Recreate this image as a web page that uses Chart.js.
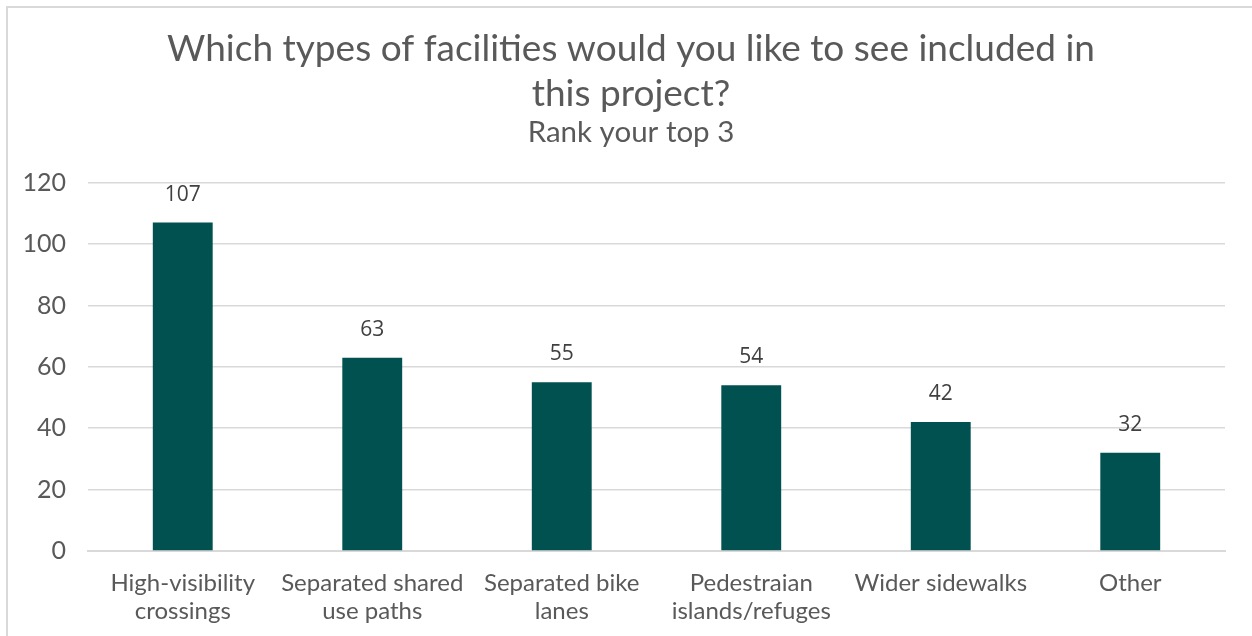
<!DOCTYPE html>
<html>
<head>
<meta charset="utf-8">
<script src="https://cdn.jsdelivr.net/npm/chart.js@4.4.1/dist/chart.umd.min.js"></script>
<style>
  html, body { margin: 0; padding: 0; background: #fff; }
  #wrap { position: absolute; left: 6px; top: 6px; width: 1252px; height: 636px; border: 2px solid #d9d9d9; box-sizing: border-box; }
  #box { position: absolute; left: 0; top: 0; width: 1252px; height: 636px; }
</style>
</head>
<body>
<div id="wrap"></div>
<div id="box"><canvas id="myChart"></canvas></div>
<script>
var categories = [
  ["High-visibility", "crossings"],
  ["Separated shared", "use paths"],
  ["Separated bike", "lanes"],
  ["Pedestraian", "islands/refuges"],
  "Wider sidewalks",
  "Other"
];
var votes = [107, 63, 55, 54, 42, 32];
var titleLines = ["Which types of facilities would you like to see included in", "this project?"];
var subtitleText = "Rank your top 3";
var barColor = "#005150";
var gridColor = "#d9d9d9";
var textColor = "#595959";

// draws the value above each bar
var valueLabels = {
  id: 'valueLabels',
  afterDatasetsDraw(chart) {
    var ctx = chart.ctx;
    var meta = chart.getDatasetMeta(0);
    ctx.save();
    ctx.font = "21px 'Open Sans', sans-serif";
    ctx.fillStyle = "#404040";
    ctx.textAlign = "center";
    ctx.textBaseline = "middle";
    meta.data.forEach(function (bar, i) {
      ctx.fillText(votes[i], bar.x, bar.y - 28);
    });
    ctx.restore();
  }
};

var myChart = new Chart(document.getElementById("myChart"), {
  type: 'bar',
  data: {
    labels: categories,
    datasets: [{
      data: votes,
      backgroundColor: barColor,
      barPercentage: 0.316,
      categoryPercentage: 1
    }]
  },
  options: {
    responsive: true,
    maintainAspectRatio: false,
    animation: false,
    layout: { padding: { left: 20, right: 10, top: 27, bottom: 0 } },
    plugins: {
      legend: { display: false },
      tooltip: { enabled: false },
      title: {
        display: true,
        text: titleLines,
        color: textColor,
        font: { family: 'Lato', size: 37, weight: 'normal', lineHeight: 1.2 },
        padding: { top: 0, bottom: 0 }
      },
      subtitle: {
        display: true,
        text: subtitleText,
        color: textColor,
        font: { family: 'Lato', size: 29.5, weight: 'normal', lineHeight: 1.15 },
        padding: { top: 0, bottom: 33 }
      }
    },
    scales: {
      x: {
        afterFit(scale) { scale.height = 85; },
        grid: { display: false },
        border: { color: gridColor, width: 2 },
        ticks: {
          color: textColor,
          font: { family: 'Lato', size: 24, lineHeight: 1.17 },
          padding: 10,
          maxRotation: 0,
          autoSkip: false
        }
      },
      y: {
        min: 0,
        max: 120,
        afterFit(scale) { scale.width = 68; },
        grid: { color: gridColor, lineWidth: 1.5, drawTicks: false },
        border: { display: false },
        ticks: {
          stepSize: 20,
          color: textColor,
          font: { family: 'Lato', size: 25 },
          padding: 22
        }
      },
      // empty spacer on the right so the plot ends where the reference does
      spacer: {
        type: 'linear',
        position: 'right',
        afterFit(scale) { scale.width = 17; },
        grid: { display: false, drawOnChartArea: false },
        border: { display: false },
        ticks: { display: false }
      }
    }
  },
  plugins: [valueLabels]
});
</script>
</body>
</html>
